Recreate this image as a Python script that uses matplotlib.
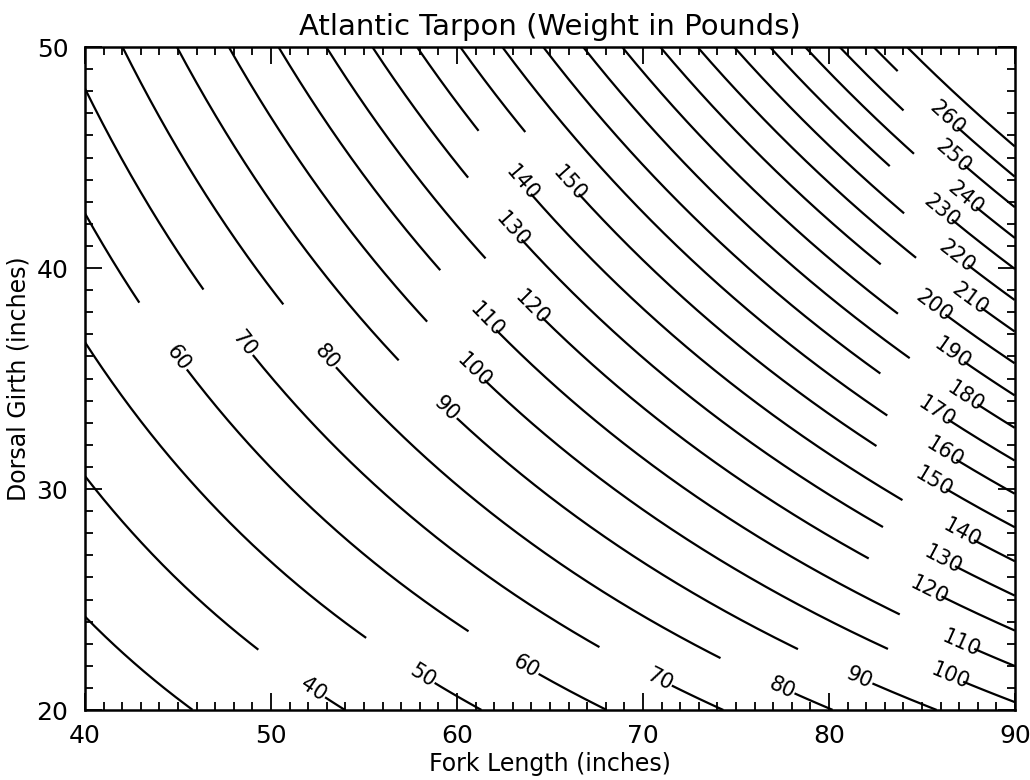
import numpy as np
import matplotlib
matplotlib.use("Agg")
import matplotlib.pyplot as plt
from matplotlib.ticker import MultipleLocator

# weight model: W = exp(log_const) * L^length_exp * G^girth_exp
log_const = -6.991
length_exp = 1.75
girth_exp = 1.235

levels = [30, 40, 50, 60, 70, 80, 90, 100, 110, 120, 130, 140, 150, 160,
          170, 180, 190, 200, 210, 220, 230, 240, 250, 260, 270]

# label centres (fork length, girth) in the middle band
labels_mid = {
    60: (45.11, 35.96), 70: (48.6, 36.59), 80: (52.99, 35.99),
    90: (59.53, 33.72), 100: (60.97, 35.38), 110: (61.6, 37.65),
    120: (64.1, 38.25), 130: (63.03, 41.8), 140: (63.57, 43.9),
    150: (66.17, 43.9),
}
# label centres near the bottom / right edge
labels_edge = {
    40: (52.27, 20.9), 50: (58.19, 21.58), 60: (63.75, 21.96),
    70: (70.91, 21.43), 80: (77.45, 20.98), 90: (81.67, 21.51),
    100: (86.5, 21.51), 110: (87.13, 23.02), 120: (85.43, 25.5),
    130: (86.15, 26.86), 140: (87.13, 27.99), 150: (85.61, 30.26),
    160: (86.24, 31.69), 170: (85.79, 33.5), 180: (87.4, 34.25),
    190: (86.69, 36.14), 200: (85.79, 38.4), 210: (87.67, 38.7),
    220: (86.86, 40.51), 230: (86.06, 42.62), 240: (87.4, 43.23),
    250: (86.77, 45.11), 260: (86.5, 46.92),
}

plt.rcParams['font.family'] = ['DejaVu Sans']

fig, ax = plt.subplots(figsize=(10.3, 7.8), dpi=100)
fig.subplots_adjust(left=0.0825, right=0.9854, bottom=0.0897, top=0.9397)
ax.set_xlim(40, 90)
ax.set_ylim(20, 50)

fork_length = np.linspace(40, 90, 301)
girth = np.linspace(20, 50, 301)
LL, GG = np.meshgrid(fork_length, girth)
weight = np.exp(log_const) * LL**length_exp * GG**girth_exp

cs = ax.contour(LL, GG, weight, levels=levels)
paths = cs.get_paths()
cs.remove()

gap_back = 68   # px of line hidden before the label centre
gap_fwd = 14    # px hidden after it
to_data = ax.transData.inverted()


def split_path(path):
    verts = path.vertices
    codes = path.codes
    if codes is None:
        return [verts]
    starts = list(np.flatnonzero(codes == 1)) + [len(verts)]
    return [verts[a:b] for a, b in zip(starts[:-1], starts[1:])]


for lev, path in zip(levels, paths):
    for seg in split_path(path):
        if len(seg) < 2:
            continue
        if seg[0, 0] > seg[-1, 0]:
            seg = seg[::-1]
        pix = ax.transData.transform(seg)
        s = np.concatenate([[0], np.cumsum(np.hypot(*np.diff(pix, axis=0).T))])
        s_new = np.arange(0, s[-1], 0.5)
        px = np.interp(s_new, s, pix[:, 0])
        py = np.interp(s_new, s, pix[:, 1])
        keep = np.ones(len(s_new), bool)
        for lab in (labels_mid, labels_edge):
            if lev not in lab:
                continue
            a = ax.transData.transform(lab[lev])
            i = np.argmin(np.hypot(px - a[0], py - a[1]))
            sc = s_new[i]
            keep &= ~((s_new > sc - gap_back) & (s_new < sc + gap_fwd))
            j0, j1 = max(i - 8, 0), min(i + 8, len(px) - 1)
            ang = np.degrees(np.arctan2(py[j1] - py[j0], px[j1] - px[j0]))
            tx, ty = to_data.transform((px[i], py[i]))
            ax.text(tx, ty, str(lev), rotation=ang, rotation_mode='anchor',
                    ha='center', va='center', fontsize=15)
        data = to_data.transform(np.column_stack([px, py]))
        idx = np.flatnonzero(keep)
        if len(idx) == 0:
            continue
        runs = np.split(idx, np.flatnonzero(np.diff(idx) > 1) + 1)
        for r in runs:
            if len(r) > 1:
                ax.plot(data[r, 0], data[r, 1], color='black', lw=1.6,
                        solid_capstyle='butt')

ax.set_xticks([40, 50, 60, 70, 80, 90])
ax.set_yticks([20, 30, 40, 50])
ax.xaxis.set_minor_locator(MultipleLocator(1))
ax.yaxis.set_minor_locator(MultipleLocator(1))
ax.tick_params(which='both', direction='in', top=True, right=True,
               width=1.3, labelsize=18)
ax.tick_params(which='major', length=12)
ax.tick_params(axis='x', which='major', pad=10)
ax.tick_params(axis='y', which='major', pad=12)
ax.tick_params(which='minor', length=6)
for sp in ax.spines.values():
    sp.set_linewidth(1.8)

ax.set_title('Atlantic Tarpon (Weight in Pounds)', fontsize=21, pad=9)
ax.set_xlabel('Fork Length (inches)', fontsize=17, labelpad=3)
ax.set_ylabel('Dorsal Girth (inches)', fontsize=17, labelpad=4)

fig.savefig('out.png', dpi=100)
